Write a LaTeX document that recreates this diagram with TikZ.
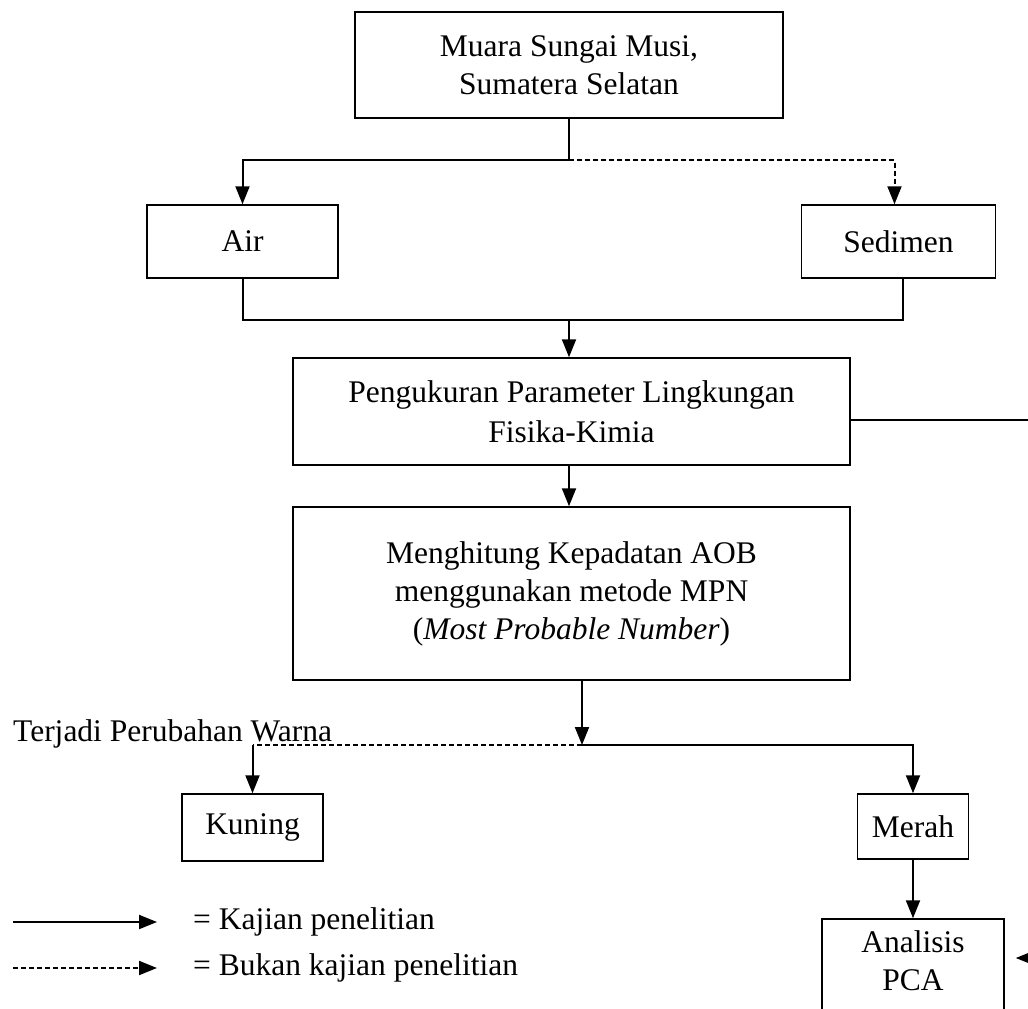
\documentclass[tikz,border=0pt]{standalone}
\usepackage{fontspec}
\setmainfont{Liberation Serif}
\usetikzlibrary{arrows.meta}
\begin{document}
\begin{tikzpicture}[x=1pt,y=-1pt,
  txt/.style={align=center, inner sep=0pt, font=\fontsize{31.5}{38}\selectfont},
  box/.style={txt, draw, line width=1.5pt},
  conn/.style={line width=2pt},
  arr/.style={conn, -{Triangle[width=14pt,length=18pt]}},
  dsh/.style={dash pattern=on 5pt off 3pt}]
\useasboundingbox (0,0) rectangle (1028,1009);
\clip (0,0) rectangle (1028,1009);
% boxes
\node[box, minimum width=428pt, minimum height=106pt] (src) at (569,65) {Muara Sungai Musi,\\Sumatera Selatan};
\node[box, minimum width=191pt, minimum height=73pt] (air) at (242.5,241.5) {Air};
\node[box, minimum width=194pt, minimum height=73pt] (sed) at (898.5,241.5) {Sedimen};
\node[box, minimum width=557pt, minimum height=107pt, font=\fontsize{31.5}{40}\selectfont] (peng) at (571.5,411.5) {Pengukuran Parameter Lingkungan\\Fisika-Kimia};
\node[box, minimum width=557pt, minimum height=173pt] (meng) at (571.5,593.5) {Menghitung Kepadatan AOB\\menggunakan metode MPN\\(\textit{Most Probable Number})};
\node[box, minimum width=141pt, minimum height=67pt] (kun) at (252.5,827.5) {Kuning};
\node[box, minimum width=111pt, minimum height=65pt] (mer) at (913,826.5) {Merah};
\node[box, minimum width=182pt, minimum height=141pt] (pca) at (913,989.5) {};
\node[txt] (pcat) at (913,961) {Analisis\\PCA};
\node[txt, anchor=base west] (tpw) at (13,741) {Terjadi Perubahan Warna};
% connectors
\coordinate (j1) at (569,160);
\draw[arr] (src.south) -- (j1) -| (air.north);
\draw[arr, dsh] (j1) -| ([xshift=-4pt]sed.north);
\coordinate (j2) at (569,320);
\draw[conn] (air.south) |- (j2) -| ([xshift=4pt]sed.south);
\draw[arr] (j2) -- (j2 |- peng.north);
\coordinate (pr) at (1040,420);
\draw[conn] (peng.east |- pr) -- (pr);
\draw[arr] (j2 |- peng.south) -- (j2 |- meng.north);
\coordinate (j3) at (582,745);
\draw[arr] (j3 |- meng.south) -- (j3);
\draw[conn, dsh] (j3) -- (j3 -| kun.north);
\draw[arr] (j3 -| kun.north) -- (kun.north);
\draw[arr] (j3) -| (mer.north);
\draw[arr] (mer.south) -- (pca.north);
\coordinate (pin) at (1060,958);
\draw[arr, shorten >=11pt] (pin) -- (pin -| pca.east);
% legend
\coordinate (l1a) at (13,922);
\coordinate (l1b) at (157,922);
\draw[arr] (l1a) -- (l1b);
\node[txt, anchor=west] (lt1) at (193,922) {= Kajian penelitian};
\coordinate (l2a) at (13,968);
\coordinate (l2b) at (157,968);
\draw[arr, dsh] (l2a) -- (l2b);
\node[txt, anchor=west] (lt2) at (193,968) {= Bukan kajian penelitian};
\end{tikzpicture}
\end{document}
